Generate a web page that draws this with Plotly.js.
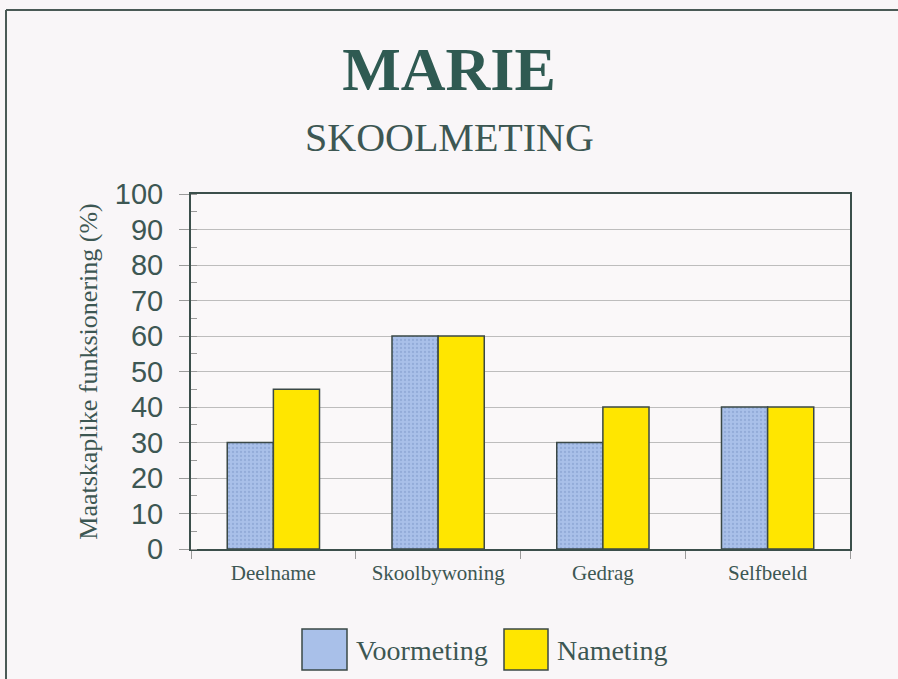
<!DOCTYPE html>
<html>
<head>
<meta charset="utf-8">
<script src="https://cdn.plot.ly/plotly-3.0.1.min.js"></script>
<style>
  html, body { margin: 0; padding: 0; background: #f9f6f8; }
  #chart { width: 898px; height: 679px; }
</style>
</head>
<body>
<div id="chart"></div>
<script>
// ---- data ----
const categories = ['Deelname', 'Skoolbywoning', 'Gedrag', 'Selfbeeld'];
const seriesNames = ['Voormeting', 'Nameting'];
const voormeting = [30, 60, 30, 40];
const nameting = [45, 60, 40, 40];
const yTickVals = [0, 10, 20, 30, 40, 50, 60, 70, 80, 90, 100];
const titleText = 'MARIE';
const subtitleText = 'SKOOLMETING';
const yTitleText = 'Maatskaplike funksionering (%)';

// ---- style ----
const ink = '#3b4f4b';
const textCol = '#3d5753';
const blue = '#a9c0e9';
const yellow = '#ffe600';
const barLine = { color: '#3a4846', width: 1.5 };
const serif = '"Liberation Serif", "Times New Roman", serif';
const sans = '"Liberation Sans", Arial, sans-serif';

const traces = [
  {
    type: 'bar', name: seriesNames[0], x: categories, y: voormeting,
    marker: { color: blue, line: barLine,
      pattern: { shape: '.', size: 4, solidity: 0.25, fgcolor: '#93acd9', bgcolor: blue } },
    hoverinfo: 'x+y'
  },
  {
    type: 'bar', name: seriesNames[1], x: categories, y: nameting,
    marker: { color: yellow, line: barLine },
    hoverinfo: 'x+y'
  }
];

// plot area geometry in px (for paper-coordinate helpers)
const L = 191, R = 48, T = 194, B = 130, W = 898, H = 679;
const pw = W - L - R, ph = H - T - B;
const px = v => (v - L) / pw;
const py = v => (H - B - v) / ph;

// custom legend (boxes + text), driven by series names/colours
const legendItems = [
  { name: seriesNames[0], color: blue, box: [302, 347], text: 354 },
  { name: seriesNames[1], color: yellow, box: [504, 548], text: 555 }
];
const shapes = [
  // outer frame (left + top)
  { type: 'line', xref: 'paper', yref: 'paper', x0: px(6), x1: px(6), y0: py(10), y1: py(679), line: { color: '#4a5a56', width: 2 } },
  { type: 'line', xref: 'paper', yref: 'paper', x0: px(6), x1: px(898), y0: py(10), y1: py(10), line: { color: '#4a5a56', width: 2 } }
];
const annotations = [
  { text: subtitleText, xref: 'paper', yref: 'paper', x: px(449), y: py(137), xanchor: 'center', yanchor: 'middle',
    showarrow: false, font: { family: serif, size: 40, color: textCol } }
];
legendItems.forEach(it => {
  shapes.push({ type: 'rect', xref: 'paper', yref: 'paper', x0: px(it.box[0]), x1: px(it.box[1]), y0: py(670), y1: py(629),
    fillcolor: it.color, line: { color: '#3a4846', width: 1.5 } });
  annotations.push({ text: it.name, xref: 'paper', yref: 'paper', x: px(it.text), y: py(650), xanchor: 'left', yanchor: 'middle',
    showarrow: false, font: { family: serif, size: 28, color: textCol } });
});

const layout = {
  width: W, height: H,
  margin: { l: L, r: R, t: T, b: B, pad: 0 },
  paper_bgcolor: '#f9f6f8',
  plot_bgcolor: '#faf8f9',
  showlegend: false,
  barmode: 'group',
  bargap: 0.44,
  bargroupgap: 0,
  title: {
    text: '<b>' + titleText + '</b>',
    font: { family: serif, size: 62, color: '#2f5a52' },
    x: 0.5, xanchor: 'center', xref: 'container',
    y: 1 - 68 / H, yanchor: 'middle', yref: 'container'
  },
  xaxis: {
    type: 'category',
    showline: true, linecolor: ink, linewidth: 2, mirror: true,
    tickson: 'boundaries', ticks: 'outside', ticklen: 8, tickcolor: '#9a9a9a', tickwidth: 1,
    ticklabelstandoff: 4,
    tickfont: { family: serif, size: 21, color: textCol },
    showgrid: false, zeroline: false, fixedrange: true
  },
  yaxis: {
    range: [0, 100],
    tickvals: yTickVals,
    ticktext: yTickVals.map(String),
    showline: true, linecolor: ink, linewidth: 2, mirror: true,
    ticks: 'outside', ticklen: 10, tickcolor: '#9a9a9a', tickwidth: 1,
    ticklabelstandoff: 10,
    minor: { dtick: 5, ticks: 'inside', ticklen: 6, tickcolor: '#9a9a9a', showgrid: false },
    tickfont: { family: sans, size: 29, color: textCol },
    showgrid: true, gridcolor: '#bdbdbd', gridwidth: 1,
    zeroline: false, fixedrange: true,
    title: { text: yTitleText, font: { family: serif, size: 26, color: textCol }, standoff: 10 }
  },
  shapes: shapes,
  annotations: annotations
};

Plotly.newPlot('chart', traces, layout, { displayModeBar: false, staticPlot: true });
</script>
</body>
</html>
